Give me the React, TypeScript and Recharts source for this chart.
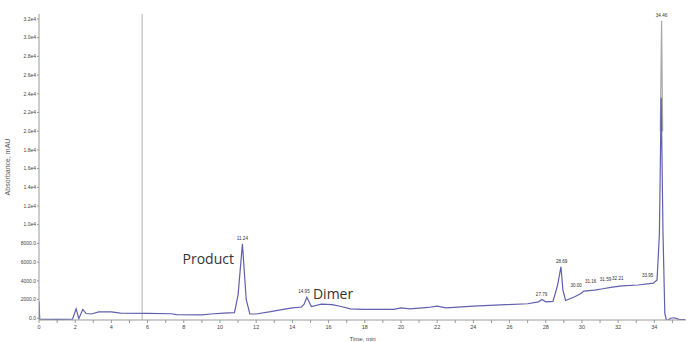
import { LineChart, Line, XAxis, YAxis, ReferenceLine, ReferenceDot } from 'recharts'

// chromatogram trace, time in min / absorbance in mAU
const traceTime = [
  0, 0.04, 1.0, 1.85, 2.05, 2.2, 2.42, 2.6, 2.9, 3.3, 4.0, 4.5, 6.0, 7.3, 7.6, 9.0, 9.5, 10.2,
  10.8, 11.0, 11.24, 11.45, 11.65, 12.0, 12.8, 13.5, 14.0, 14.5, 14.65, 14.8, 15.05, 15.6, 16.2,
  16.7, 17.2, 18.0, 19.6, 20.0, 20.5, 21.5, 22.0, 22.5, 24.0, 25.8, 27.0, 27.6, 27.79, 28.0, 28.4,
  28.65, 28.84, 28.95, 29.1, 29.6, 29.95, 30.1, 30.7, 31.16, 31.59, 32.21, 33.1, 33.95, 34.15,
  34.28, 34.38, 34.48, 34.58, 34.68, 34.9, 35.1, 35.4, 35.7,
]
const traceValue = [
  1800, -100, -120, -100, 1000, -50, 950, 500, 450, 680, 680, 550, 520, 480, 380, 350, 450, 550,
  600, 2500, 7950, 2000, 450, 450, 700, 950, 1100, 1200, 1500, 2250, 1250, 1500, 1450,
  1250, 1000, 950, 950, 1100, 1000, 1150, 1300, 1100, 1300, 1450, 1550, 1750, 2000, 1750, 1800,
  3500, 5500, 3000, 1900, 2300, 2650, 2900, 3000, 3150, 3300, 3450, 3550, 3750, 4100,
  9000, 23600, 9000, 500, -300, 0, 50, -150, -150,
]

// second (gray) channel only visible at the top of the last peak
const overlayTime = [34.33, 34.4, 34.46]
const overlayValue = [20000, 31800, 20000]

const peakTimes = [11.24, 14.95, 27.79, 28.69, 30.0, 31.16, 31.59, 32.21, 33.95, 34.46]
const peakLabelX = [11.24, 14.64, 27.77, 28.88, 30.0, 30.8, 31.62, 32.3, 33.95, 34.4]
const peakHeights = [7950, 2250, 2000, 5500, 2650, 3150, 3300, 3450, 3750, 31800]

const annotations = [
  { text: 'Product', t: 9.35, v: 6300 },
  { text: 'Dimer', t: 16.25, v: 2550 },
]

const yTicks = [0, 2000, 4000, 6000, 8000, 10000, 12000, 14000, 16000, 18000, 20000, 22000, 24000, 26000, 28000, 30000, 32000]
const xTicks = Array.from({ length: 36 }, (_, i) => i)

const trace = traceTime.map((t, i) => ({ t, v: traceValue[i] }))
const overlay = overlayTime.map((t, i) => ({ t, v: overlayValue[i] }))

const fmtY = (v: number) => (v < 10000 ? v.toFixed(1) : (v / 10000).toFixed(1) + 'e4')

export default function App() {
  return (
    <div>
      <style>{`body{margin:0;background:#fff}`}</style>
      <LineChart width={686} height={342} margin={{ top: 14, right: 0, bottom: 0, left: 0 }}>
        <XAxis
          type="number"
          dataKey="t"
          domain={[0, 35.75]}
          ticks={xTicks}
          tickFormatter={(v: number) => (v % 2 === 0 ? String(v) : '')}
          tick={{ fontSize: 5.5, fill: '#444', fontFamily: 'Liberation Sans' }}
          tickSize={3}
          tickMargin={2}
          stroke="#999"
          height={22}
          allowDataOverflow
          label={{ value: 'Time, min', position: 'insideBottom', offset: 1, fontSize: 6, fill: '#444', fontFamily: 'Liberation Sans' }}
        />
        <YAxis
          type="number"
          domain={[-190, 32530]}
          ticks={yTicks}
          tickFormatter={fmtY}
          tick={{ fontSize: 5, fill: '#444', fontFamily: 'Liberation Sans' }}
          tickSize={2}
          tickMargin={1}
          stroke="#999"
          width={39}
          allowDataOverflow
          label={{
            value: 'Absorbance, mAU',
            angle: -90,
            position: 'insideLeft',
            offset: 8,
            fontSize: 7,
            fill: '#555',
            fontFamily: 'Liberation Sans',
            style: { textAnchor: 'middle' },
          }}
        />
        <ReferenceLine x={5.7} stroke="#b4b4b4" strokeWidth={1} />
        <Line
          data={overlay}
          dataKey="v"
          type="linear"
          stroke="#a8a8a8"
          strokeWidth={1.2}
          dot={false}
          isAnimationActive={false}
        />
        <Line
          data={trace}
          dataKey="v"
          type="linear"
          stroke="#6060ac"
          strokeWidth={1.2}
          dot={false}
          isAnimationActive={false}
        />
        {peakTimes.map((p, i) => {
          const crowded = p >= 29.9 && p < 34
          return (
            <ReferenceDot
              key={p}
              x={peakLabelX[i]}
              y={peakHeights[i]}
              r={0}
              stroke="none"
              label={{
                value: p.toFixed(2),
                position: 'top',
                offset: crowded ? 6 : 4,
                fontSize: 4.6,
                fill: '#333',
                fontFamily: 'Liberation Sans',
                style: crowded ? { textAnchor: 'end' } : undefined,
              }}
            />
          )
        })}
        {annotations.map((a) => (
          <ReferenceDot
            key={a.text}
            x={a.t}
            y={a.v}
            r={0}
            stroke="none"
            label={{ value: a.text, position: 'center', fontSize: 14, fill: '#333', fontFamily: 'Open Sans' }}
          />
        ))}
      </LineChart>
    </div>
  )
}
